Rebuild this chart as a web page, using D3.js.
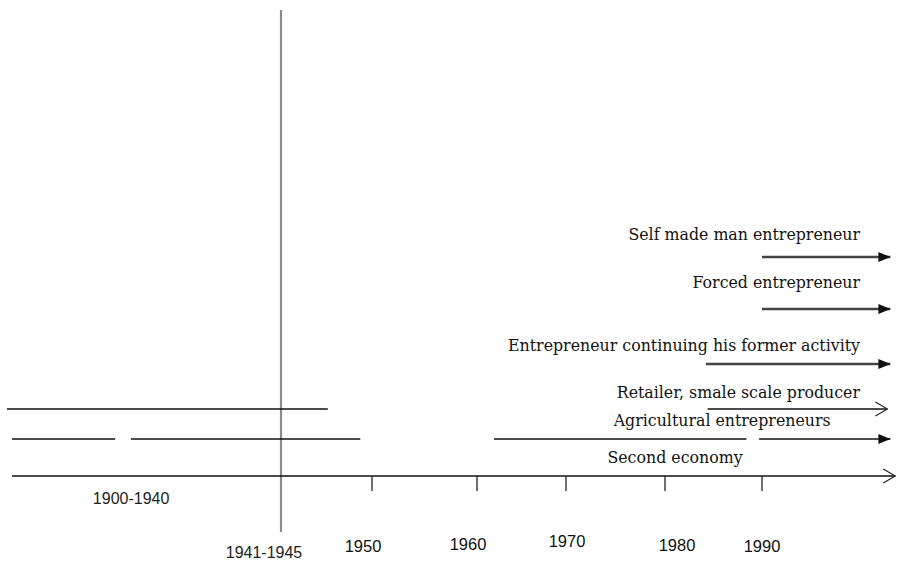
<!DOCTYPE html>
<html>
<head>
<meta charset="utf-8">
<script src="https://cdn.jsdelivr.net/npm/d3@7"></script>
<style>
  html, body { margin: 0; padding: 0; background: #fff; }
  svg { display: block; }
</style>
</head>
<body>
<svg id="chart" width="897" height="563"></svg>
<script>
// ---- data ----
const rowNames = [
  "Self made man entrepreneur",
  "Forced entrepreneur",
  "Entrepreneur continuing his former activity",
  "Retailer, smale scale producer",
  "Agricultural entrepreneurs",
  "Second economy"
];
// year at which each row label ends (right edge)
const labelEndYear = [2000, 2000, 2000, 2000, 1997, 1988];

// line segments (row index, start year, end year, arrow head type)
const segRow   = [0, 1, 2, 3, 3, 4, 4, 4, 4];
const segStart = [1990, 1990, 1984.2, 1984.4, 1899.2, 1900, 1919, 1961.9, 1989.7];
const segEnd   = [2003.1, 2003.1, 2003.1, 2002.8, 1946.6, 1916.5, 1949.1, 1988.4, 2003.1];
const segArrow = ["filled", "filled", "filled", "open", "none", "none", "none", "none", "filled"];

// time axis
const axisStart = 1900, axisEnd = 2003.6;
const tickYears = [1950, 1960, 1970, 1980, 1990];
const tickLabels = ["1950", "1960", "1970", "1980", "1990"];
const periodLabels = ["1900-1940", "1941-1945"];
const periodMid = [1920, 1943];
const warYear = 1943;

// ---- layout (not data) ----
const tickLabelDx = [-9, -9, 1, 12, 0];
const tickLabelDy = [1, -1, -4, 0, 1];

// ---- scales ----
const x = d3.scaleLinear()
  .domain([1900, 1943, 1950, 1960, 1970, 1980, 1990, 2000])
  .range([12, 281, 372, 477, 566, 665, 762, 860]);
const y = d3.scaleLinear()
  .domain([0, 1, 2, 3, 4, 5])
  .range([257, 309, 364, 409, 439, 476]);
const yLabel = d3.scaleLinear()
  .domain([0, 1, 2, 3, 4, 5])
  .range([240, 288, 351, 398, 426, 463]);

const svg = d3.select("#chart");

// markers
const defs = svg.append("defs");
defs.append("marker")
  .attr("id", "filled").attr("viewBox", "0 0 12 10")
  .attr("refX", 12).attr("refY", 5)
  .attr("markerWidth", 12).attr("markerHeight", 10)
  .attr("markerUnits", "userSpaceOnUse").attr("orient", "auto")
  .append("path").attr("d", "M0,0 L12,5 L0,10 Z").attr("fill", "#111");
defs.append("marker")
  .attr("id", "open").attr("viewBox", "0 0 14 16")
  .attr("refX", 13).attr("refY", 8)
  .attr("markerWidth", 14).attr("markerHeight", 16)
  .attr("markerUnits", "userSpaceOnUse").attr("orient", "auto")
  .append("path").attr("d", "M1,1 L13,8 L1,15").attr("fill", "none")
  .attr("stroke", "#222").attr("stroke-width", 1.2);

// war vertical line
svg.append("line")
  .attr("x1", x(warYear)).attr("x2", x(warYear))
  .attr("y1", 10).attr("y2", 532)
  .attr("stroke", "#8a8a8a").attr("stroke-width", 2.2);

// axis line (second economy)
svg.append("line")
  .attr("x1", x(axisStart)).attr("x2", x(axisEnd))
  .attr("y1", y(5)).attr("y2", y(5))
  .attr("stroke", "#111").attr("stroke-width", 1.3)
  .attr("marker-end", "url(#open)");

// ticks
svg.selectAll("line.tick").data(tickYears).join("line")
  .attr("class", "tick")
  .attr("x1", d => x(d)).attr("x2", d => x(d))
  .attr("y1", y(5)).attr("y2", y(5) + 15)
  .attr("stroke", "#222").attr("stroke-width", 1.3);

svg.selectAll("text.ticklab").data(tickYears).join("text")
  .attr("class", "ticklab")
  .attr("x", (d, i) => x(d) + tickLabelDx[i]).attr("y", (d, i) => 551 + tickLabelDy[i])
  .attr("text-anchor", "middle")
  .attr("font-family", "'Liberation Sans', Arial, sans-serif").attr("font-size", 16.5)
  .attr("fill", "#111")
  .text((d, i) => tickLabels[i]);

svg.selectAll("text.period").data(periodLabels).join("text")
  .attr("class", "period")
  .attr("x", (d, i) => x(periodMid[i]) - (i === 1 ? 17 : 6))
  .attr("y", (d, i) => i === 0 ? 504 : 558)
  .attr("text-anchor", "middle")
  .attr("font-family", "'Liberation Sans', Arial, sans-serif").attr("font-size", 16)
  .attr("fill", "#222")
  .text(d => d);

// segments
const segs = segRow.map((r, i) => ({ r, s: segStart[i], e: segEnd[i], a: segArrow[i] }));
svg.selectAll("line.seg").data(segs).join("line")
  .attr("class", "seg")
  .attr("x1", d => x(d.s)).attr("x2", d => x(d.e))
  .attr("y1", d => y(d.r)).attr("y2", d => y(d.r))
  .attr("stroke", d => d.r <= 2 ? "#444" : "#111")
  .attr("stroke-width", d => d.r <= 2 ? 2.6 : 1.5)
  .attr("marker-end", d => d.a === "none" ? null : `url(#${d.a})`);

// row labels
svg.selectAll("text.rowlab").data(rowNames).join("text")
  .attr("class", "rowlab")
  .attr("x", (d, i) => x(labelEndYear[i]))
  .attr("y", (d, i) => yLabel(i))
  .attr("text-anchor", "end")
  .attr("font-family", "'DejaVu Serif', serif").attr("font-size", 15.8)
  .attr("fill", "#111")
  .text(d => d);
</script>
</body>
</html>
